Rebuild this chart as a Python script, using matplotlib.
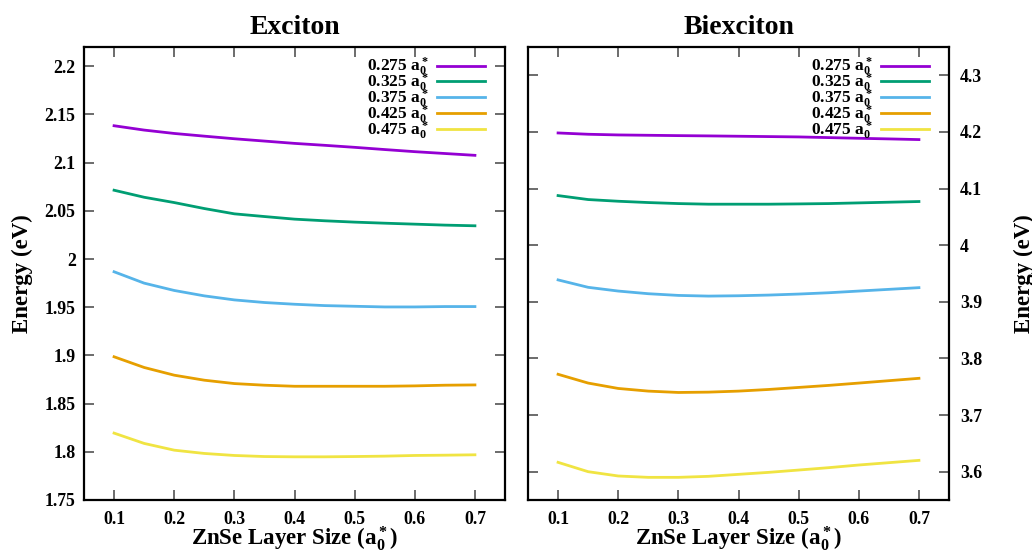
import matplotlib
matplotlib.use('Agg')
import matplotlib.pyplot as plt
from matplotlib.ticker import FuncFormatter, MultipleLocator

# ---------------- data ----------------
layer_size = [0.10, 0.15, 0.20, 0.25, 0.30, 0.35, 0.40, 0.45, 0.50, 0.55, 0.60, 0.65, 0.70]
dot_sizes = ['0.275', '0.325', '0.375', '0.425', '0.475']

exciton_0275 = [2.1383, 2.1338, 2.1303, 2.1275, 2.1248, 2.1224, 2.1200, 2.1180, 2.1159, 2.1136, 2.1114, 2.1095, 2.1076]
exciton_0325 = [2.0714, 2.0641, 2.0586, 2.0524, 2.0469, 2.0441, 2.0414, 2.0397, 2.0383, 2.0372, 2.0362, 2.0352, 2.0345]
exciton_0375 = [1.9868, 1.9750, 1.9674, 1.9618, 1.9576, 1.9549, 1.9531, 1.9517, 1.9510, 1.9503, 1.9503, 1.9507, 1.9507]
exciton_0425 = [1.8986, 1.8875, 1.8795, 1.8743, 1.8708, 1.8691, 1.8680, 1.8680, 1.8680, 1.8680, 1.8684, 1.8691, 1.8694]
exciton_0475 = [1.8194, 1.8087, 1.8017, 1.7983, 1.7962, 1.7951, 1.7948, 1.7948, 1.7951, 1.7955, 1.7962, 1.7965, 1.7969]

biexciton_0275 = [4.1982, 4.1959, 4.1947, 4.1941, 4.1935, 4.1930, 4.1924, 4.1918, 4.1912, 4.1900, 4.1888, 4.1877, 4.1865]
biexciton_0325 = [4.0876, 4.0806, 4.0776, 4.0753, 4.0735, 4.0724, 4.0724, 4.0724, 4.0729, 4.0735, 4.0747, 4.0759, 4.0771]
biexciton_0375 = [3.9387, 3.9256, 3.9190, 3.9143, 3.9113, 3.9101, 3.9107, 3.9119, 3.9137, 3.9160, 3.9190, 3.9220, 3.9250]
biexciton_0425 = [3.7720, 3.7565, 3.7470, 3.7423, 3.7399, 3.7405, 3.7423, 3.7452, 3.7488, 3.7524, 3.7565, 3.7607, 3.7649]
biexciton_0475 = [3.6165, 3.6000, 3.5924, 3.5900, 3.5900, 3.5918, 3.5953, 3.5988, 3.6029, 3.6071, 3.6118, 3.6159, 3.6200]

exciton_series = [exciton_0275, exciton_0325, exciton_0375, exciton_0425, exciton_0475]
biexciton_series = [biexciton_0275, biexciton_0325, biexciton_0375, biexciton_0425, biexciton_0475]
colors = ['#9400d3', '#009e73', '#56b4e9', '#e69f00', '#f0e442']

x_ticks = [0.1, 0.2, 0.3, 0.4, 0.5, 0.6, 0.7]

# ---------------- style ----------------
plt.rcParams['font.family'] = ['Liberation Serif', 'DejaVu Serif']
plt.rcParams['font.weight'] = 'bold'
plt.rcParams['mathtext.fontset'] = 'custom'
plt.rcParams['mathtext.rm'] = 'Liberation Serif:bold'
plt.rcParams['mathtext.it'] = 'Liberation Serif:bold'
plt.rcParams['mathtext.bf'] = 'Liberation Serif:bold'
plt.rcParams['mathtext.default'] = 'rm'

W, H = 1032, 551
fig = plt.figure(figsize=(W / 100, H / 100), dpi=100)
axL = fig.add_axes([84 / W, 1 - 500 / H, 421 / W, 453 / H])
axR = fig.add_axes([528 / W, 1 - 500 / H, 421 / W, 453 / H])

fmt = FuncFormatter(lambda v, p: '%g' % round(v, 4))
tick_fs = 12.8


def style(ax):
    for s in ax.spines.values():
        s.set_linewidth(1.6)
        s.set_color('black')
    ax.set_xlim(0.05, 0.75)
    ax.set_xticks(x_ticks)
    ax.xaxis.set_major_formatter(fmt)
    ax.yaxis.set_major_formatter(fmt)
    ax.tick_params(axis='both', which='major', direction='in', length=7, width=1.1,
                   color='#444444', labelsize=tick_fs, top=True, bottom=True,
                   left=True, right=True)
    ax.tick_params(axis='x', pad=8)
    ax.set_xlabel(r'ZnSe Layer Size (a$_0^*$)', fontsize=16.5, fontweight='bold', labelpad=-3)


def legend(ax):
    leg = ax.legend(loc='upper right', frameon=False, markerfirst=False,
                    fontsize=12.5, handlelength=2.8, handletextpad=0.45,
                    labelspacing=-0.36, borderaxespad=0.45, borderpad=0.4,
                    bbox_to_anchor=(1 - 5 / 421, 1 + 6 / 453))
    for t in leg.get_texts():
        t.set_fontweight('bold')


# Exciton panel
for vals, col, s in zip(exciton_series, colors, dot_sizes):
    axL.plot(layer_size, vals, color=col, lw=2.0, label=s + r' a$_0^*$')
style(axL)
axL.set_ylim(1.75, 2.22)
axL.yaxis.set_major_locator(MultipleLocator(0.05))
axL.tick_params(axis='y', labelleft=True, labelright=False, pad=6)
axL.set_ylabel('Energy (eV)', fontsize=16.5, fontweight='bold', labelpad=8)
axL.set_title('Exciton', fontsize=20, fontweight='bold', pad=9)
legend(axL)

# Biexciton panel
for vals, col, s in zip(biexciton_series, colors, dot_sizes):
    axR.plot(layer_size, vals, color=col, lw=2.0, label=s + r' a$_0^*$')
style(axR)
axR.set_ylim(3.55, 4.35)
axR.yaxis.set_major_locator(MultipleLocator(0.1))
axR.tick_params(axis='y', labelleft=False, labelright=True, pad=8)
axR.yaxis.set_label_position('right')
axR.set_ylabel('Energy (eV)', fontsize=16.5, fontweight='bold', labelpad=23)
axR.set_title('Biexciton', fontsize=20, fontweight='bold', pad=9)
legend(axR)

for ax in (axL, axR):
    for lab in ax.get_xticklabels() + ax.get_yticklabels():
        lab.set_fontweight('bold')

fig.savefig('out.png', dpi=100)
